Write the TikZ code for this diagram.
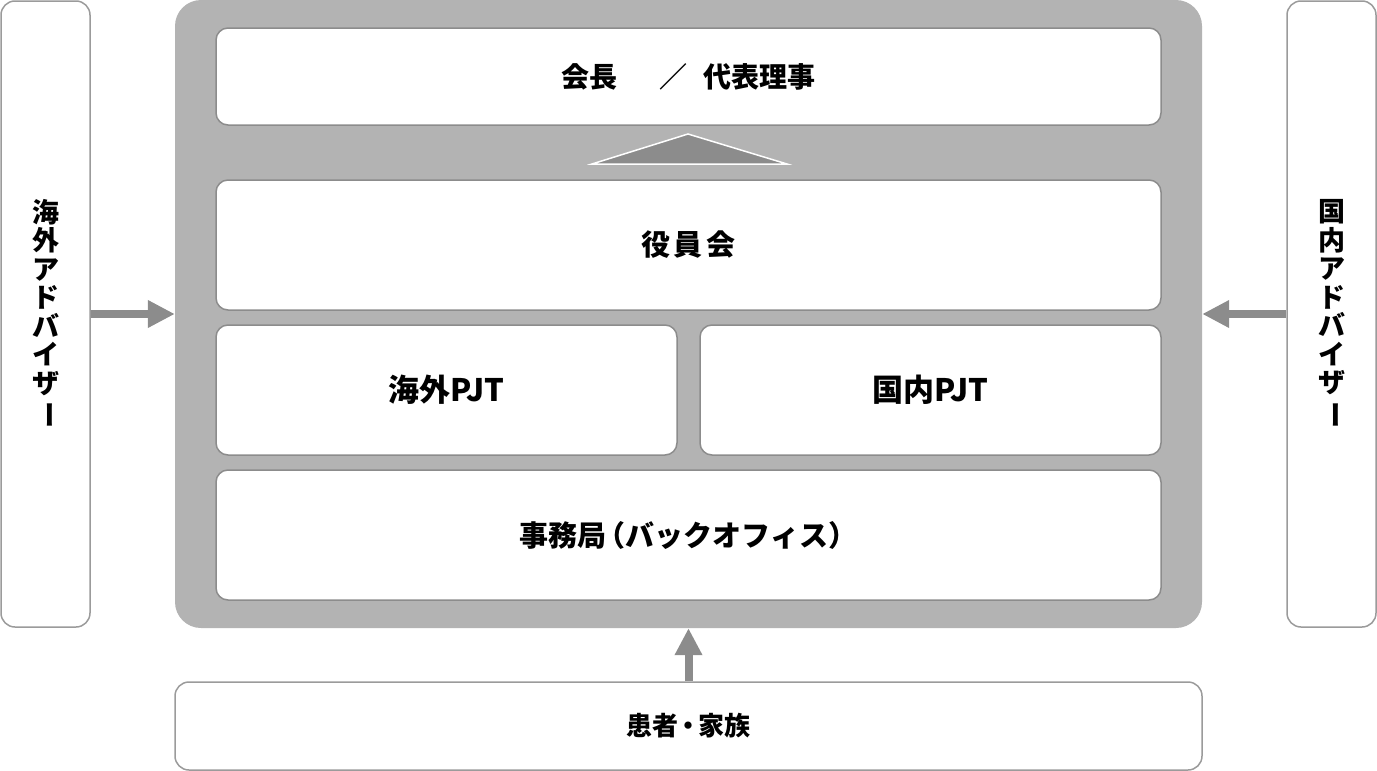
\documentclass[tikz,border=0pt]{standalone}
\usepackage{fontspec}
\usepackage{graphicx}
\newfontfamily\jp{Noto Sans CJK JP}
\usetikzlibrary{arrows.meta}
\definecolor{panelgray}{RGB}{179,179,179}
\definecolor{edgegray}{RGB}{140,140,140}
\definecolor{arrowgray}{RGB}{140,140,140}
\definecolor{sidegray}{RGB}{155,155,155}
\begin{document}
\begin{tikzpicture}[x=1pt,y=-1pt,
  inbox/.style={draw=edgegray, line width=1.5pt, fill=white, rounded corners=12pt,
    inner sep=0pt, font=\jp\bfseries\fontsize{29}{32}\selectfont},
  sidebox/.style={draw=sidegray, line width=1.5pt, fill=white, rounded corners=14pt,
    inner sep=0pt, align=center, font=\jp\bfseries\fontsize{27}{28.5}\selectfont},
  panelbox/.style={fill=panelgray, rounded corners=26pt, inner sep=0pt},
  arr/.style={draw=arrowgray, line width=8pt, -{Triangle[length=27pt,width=26pt]}}]
\useasboundingbox (0,0) rectangle (1377,771);
% side boxes
\node[sidebox, minimum width=89pt, minimum height=626pt] (lbox) at (45.5,314)
  {海\\外\\ア\\ド\\バ\\イ\\ザ\\\rotatebox[origin=c]{-90}{ー}};
\node[sidebox, minimum width=89pt, minimum height=626pt] (rbox) at (1331.5,314)
  {国\\内\\ア\\ド\\バ\\イ\\ザ\\\rotatebox[origin=c]{-90}{ー}};
% central panel
\node[panelbox, minimum width=1027pt, minimum height=628pt] (panel) at (688.5,314) {};
% inner boxes
\node[inbox, minimum width=945pt, minimum height=97pt, font=\jp\bfseries\fontsize{28}{30}\selectfont]
  (chair) at (688.5,76.5) {会長\hspace{1.5em}／\hspace{0.6em}代表理事};
\node[inbox, minimum width=945pt, minimum height=130pt] (board) at (688.5,245)
  {役\hspace{4pt}員\hspace{4pt}会};
\node[inbox, minimum width=461pt, minimum height=130pt, font=\jp\bfseries\fontsize{31}{34}\selectfont]
  (ovs) at (446.5,390) {海外PJT};
\node[inbox, minimum width=461pt, minimum height=130pt, font=\jp\bfseries\fontsize{31}{34}\selectfont]
  (dom) at (930.5,390) {国内PJT};
\node[inbox, minimum width=945pt, minimum height=130pt] (office) at (688.5,535)
  {事務局\hspace{-0.35em}（バックオフィス）\hspace{-0.35em}};
% bottom box
\node[sidebox, minimum width=1027pt, minimum height=88pt, font=\jp\bfseries\fontsize{26}{28}\selectfont]
  (family) at (688.5,726) {患者\hspace{-0.1em}・\hspace{-0.1em}家族};
% triangle between chair and board
\filldraw[fill=arrowgray, draw=white, line width=1.5pt, line join=miter]
  (592,164) -- (688,134) -- (787,164) -- cycle;
% arrows
\draw[arr] (lbox.east) -- (panel.west);
\draw[arr] (rbox.west) -- (panel.east);
\draw[arr] (family.north) -- (panel.south);
\end{tikzpicture}
\end{document}
